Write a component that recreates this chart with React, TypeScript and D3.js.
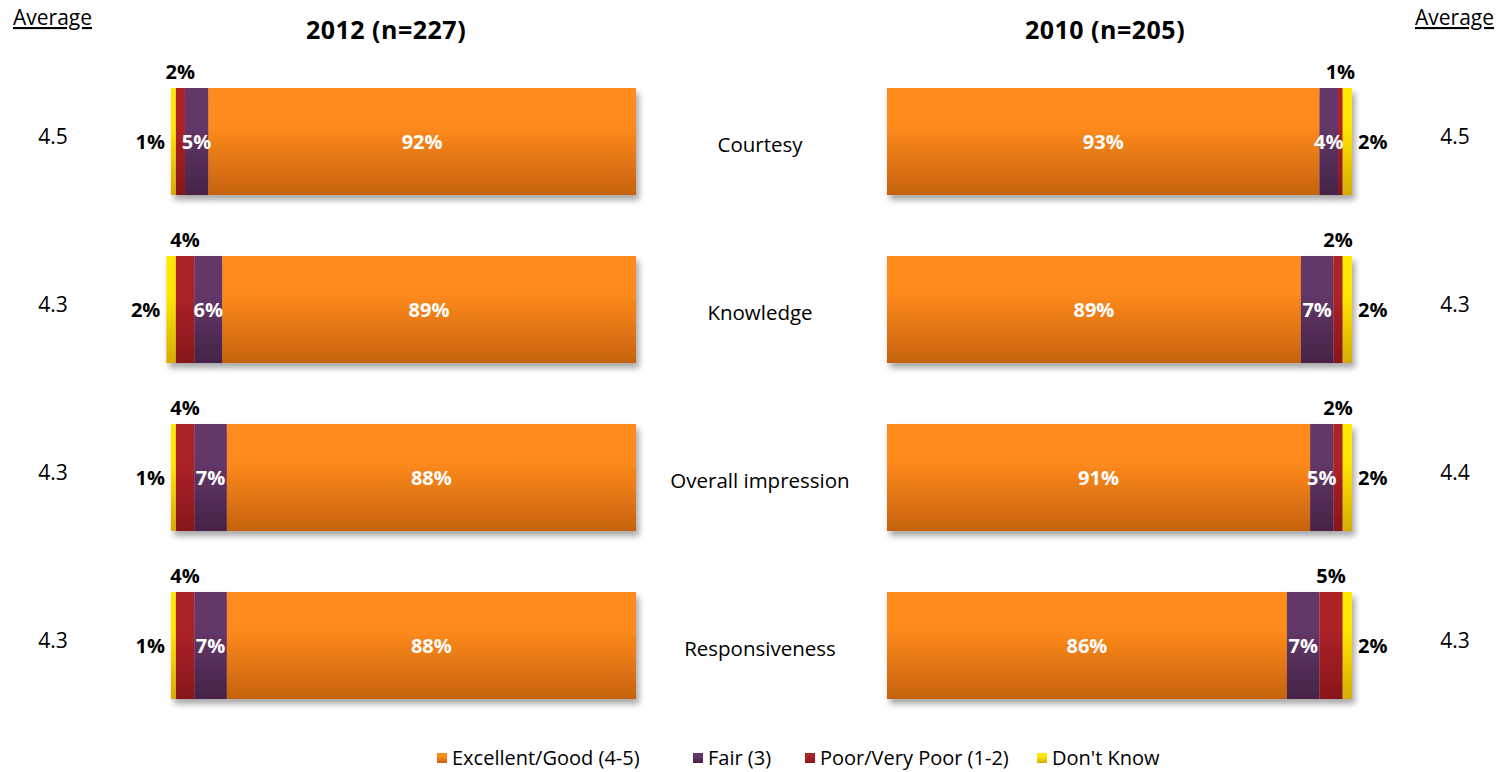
import * as d3 from 'd3';

// categories and series
const CATEGORIES = ['Courtesy', 'Knowledge', 'Overall impression', 'Responsiveness'];
const KEYS = ['excellent', 'fair', 'poor', 'dk'];
const SERIES_LABELS = ['Excellent/Good (4-5)', 'Fair (3)', 'Poor/Very Poor (1-2)', "Don't Know"];

// 2012 (n=227)
const EXCELLENT_2012 = [92, 89, 88, 88];
const FAIR_2012 = [5, 6, 7, 7];
const POOR_2012 = [2, 4, 4, 4];
const DK_2012 = [1, 2, 1, 1];
const AVG_2012 = ['4.5', '4.3', '4.3', '4.3'];

// 2010 (n=205)
const EXCELLENT_2010 = [93, 89, 91, 86];
const FAIR_2010 = [4, 7, 5, 7];
const POOR_2010 = [1, 2, 2, 5];
const DK_2010 = [2, 2, 2, 2];
const AVG_2010 = ['4.5', '4.3', '4.4', '4.3'];

const GRADIENTS: Record<string, [string, string]> = {
  excellent: ['#ff8b1b', '#c6620f'],
  fair: ['#633869', '#452347'],
  poor: ['#ad2228', '#87171b'],
  dk: ['#ffe900', '#d6ab00']
};

const FONT = '"Open Sans", sans-serif';
const W = 1503;
const H = 772;

type Row = { category: string; [k: string]: number | string };

const buildRows = (e: number[], f: number[], p: number[], d: number[]): Row[] =>
  CATEGORIES.map((c, i) => ({ category: c, excellent: e[i], fair: f[i], poor: p[i], dk: d[i] }));

const rows2012 = buildRows(EXCELLENT_2012, FAIR_2012, POOR_2012, DK_2012);
const rows2010 = buildRows(EXCELLENT_2010, FAIR_2010, POOR_2010, DK_2010);

const stack = d3.stack<Row>().keys(KEYS).value((d, k) => d[k] as number);

const y = d3.scaleBand().domain(CATEGORIES).range([88, 699]).paddingInner(0.363);

// left panel grows leftwards from 636, right panel rightwards from 887
const xLeft = d3.scaleLinear().domain([0, 100]).range([636, 171]);
const xRight = d3.scaleLinear().domain([0, 100]).range([887, 1352]);

const Panel = ({ rows, side }: { rows: Row[]; side: 'left' | 'right' }) => {
  const series = stack(rows);
  const x = side === 'left' ? xLeft : xRight;
  const bw = y.bandwidth();
  return (
    <g>
      <g filter="url(#shadow)">
        {series.map((s) =>
          s.map((d) => {
            const a = x(d[0]);
            const b = x(d[1]);
            return (
              <rect
                key={s.key + d.data.category}
                x={Math.min(a, b)}
                y={y(d.data.category)}
                width={Math.abs(b - a)}
                height={bw}
                fill={`url(#grad-${s.key})`}
              />
            );
          })
        )}
      </g>
      {series.map((s) =>
        s.map((d) => {
          const cat = d.data.category;
          const top = y(cat)!;
          const cy = top + bw / 2;
          const v = d[1] - d[0];
          const mid = (x(d[0]) + x(d[1])) / 2;
          const common = { fontFamily: FONT, fontWeight: 700, fontSize: 20 };
          if (s.key === 'excellent' || s.key === 'fair') {
            return (
              <text key={'l' + s.key + cat} x={mid} y={cy} dy="0.36em" textAnchor="middle" fill="#fff" {...common}>
                {v}%
              </text>
            );
          }
          if (s.key === 'poor') {
            return (
              <text key={'l' + s.key + cat} x={mid} y={top - 16} dy="0.36em" textAnchor="middle" fill="#000" {...common}>
                {v}%
              </text>
            );
          }
          const edge = x(d[1]);
          return (
            <text
              key={'l' + s.key + cat}
              x={side === 'left' ? edge - 6 : edge + 6}
              y={cy}
              dy="0.36em"
              textAnchor={side === 'left' ? 'end' : 'start'}
              fill="#000"
              {...common}
            >
              {v}%
            </text>
          );
        })
      )}
    </g>
  );
};

const LEGEND_X = [437, 693, 805, 1037];

export default function App() {
  return (
    <svg width={W} height={H} style={{ position: 'absolute', left: 0, top: 0, background: '#fff' }}>
      <defs>
        {KEYS.map((k) => (
          <linearGradient key={k} id={`grad-${k}`} x1="0" y1="0" x2="0" y2="1">
            <stop offset="0" stopColor={GRADIENTS[k][0]} />
            <stop offset="0.35" stopColor={GRADIENTS[k][0]} />
            <stop offset="1" stopColor={GRADIENTS[k][1]} />
          </linearGradient>
        ))}
        <filter id="shadow" x="-5%" y="-10%" width="115%" height="130%">
          <feDropShadow dx="3" dy="5" stdDeviation="3" floodColor="#000" floodOpacity="0.35" />
        </filter>
      </defs>

      {/* headers */}
      <text x={13} y={25} fontFamily={FONT} fontSize={21} textDecoration="underline">Average</text>
      <text x={1494} y={25} fontFamily={FONT} fontSize={21} textAnchor="end" textDecoration="underline">Average</text>
      <text x={386} y={39} fontFamily={FONT} fontSize={25} fontWeight={700} letterSpacing={0.5} textAnchor="middle">2012 (n=227)</text>
      <text x={1105} y={39} fontFamily={FONT} fontSize={25} fontWeight={700} letterSpacing={0.5} textAnchor="middle">2010 (n=205)</text>

      <Panel rows={rows2012} side="left" />
      <Panel rows={rows2010} side="right" />

      {CATEGORIES.map((c, i) => {
        const cy = y(c)! + y.bandwidth() / 2;
        return (
          <g key={c}>
            <text x={760} y={cy + 3} dy="0.36em" textAnchor="middle" fontFamily={FONT} fontSize={20.5}>{c}</text>
            <text x={53} y={cy - 5} dy="0.36em" textAnchor="middle" fontFamily={FONT} fontSize={21}>{AVG_2012[i]}</text>
            <text x={1455} y={cy - 5} dy="0.36em" textAnchor="middle" fontFamily={FONT} fontSize={21}>{AVG_2010[i]}</text>
          </g>
        );
      })}

      {/* legend */}
      {KEYS.map((k, i) => (
        <g key={k} transform={`translate(${LEGEND_X[i]},753)`}>
          <rect width={10} height={10} fill={`url(#grad-${k})`} />
          <text x={15} y={5} dy="0.36em" fontFamily={FONT} fontSize={20}>{SERIES_LABELS[i]}</text>
        </g>
      ))}
    </svg>
  );
}
